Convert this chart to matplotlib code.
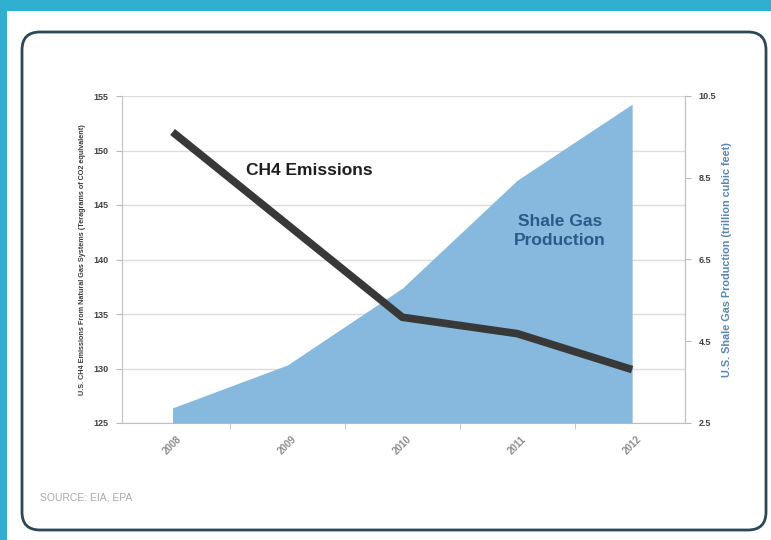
import numpy as np
import matplotlib.pyplot as plt
from matplotlib.patches import FancyBboxPatch, Rectangle

years = ["2008", "2009", "2010", "2011", "2012"]
ch4_emissions = [151.7, 143.2, 134.7, 133.2, 129.9]
shale_gas = [2.87, 3.92, 5.8, 8.44, 10.3]
left_ticks = [125, 130, 135, 140, 145, 150, 155]
right_ticks = [2.5, 4.5, 6.5, 8.5, 10.5]

plt.rcParams['font.family'] = ['Liberation Sans', 'DejaVu Sans']

fig = plt.figure(figsize=(7.71, 5.4), dpi=100)

# background frame in pixel coordinates
bg = fig.add_axes([0, 0, 1, 1])
bg.set_xlim(0, 771)
bg.set_ylim(540, 0)
bg.axis("off")
bg.add_patch(Rectangle((0, 0), 771, 11, color="#2fb0d0", lw=0))
bg.add_patch(Rectangle((0, 0), 7, 540, color="#2fb0d0", lw=0))
bg.add_patch(FancyBboxPatch((40, 50), 708, 462, boxstyle="round,pad=18",
                            fc="white", ec="#2c4756", lw=2))
bg.text(40, 497, "SOURCE: EIA, EPA", fontsize=7.5, color="#a8a8a8", va="center")

x = np.arange(len(years))

ax = fig.add_axes([122 / 771, 117 / 540, 563 / 771, 327 / 540])
ax.set_xlim(-0.44, 4.46)
ax.set_ylim(125, 155)
ax.set_yticks(left_ticks)
ax.set_yticklabels([str(t) for t in left_ticks], fontsize=6.5, fontweight="bold", color="#404040")
ax.grid(axis="y", color="#dcdcdc", lw=1)
ax.set_axisbelow(True)
ax.set_xticks(x)
ax.set_xticklabels(years, rotation=45, fontsize=7, fontweight="bold", color="#8c8c8c")
ax.set_xticks(x[:-1] + 0.5, minor=True)
ax.tick_params(axis="x", which="major", length=0, pad=8)
ax.tick_params(axis="x", which="minor", length=4, color="#bbbbbb")
ax.tick_params(axis="y", length=4, color="#bbbbbb", pad=6)
ax.spines["top"].set_visible(False)
for s in ["left", "bottom", "right"]:
    ax.spines[s].set_color("#c0c0c0")
ax.set_ylabel("U.S. CH4 Emissions From Natural Gas Systems (Teragrams of CO2 equivalent)",
              fontsize=5.2, fontweight="bold", color="#3a3a3a", labelpad=5)

ax2 = ax.twinx()
ax2.set_ylim(2.5, 10.5)
ax2.fill_between(x, shale_gas, 2.5, color="#86b9dd", lw=0)
ax2.set_yticks(right_ticks)
ax2.set_yticklabels([str(t) for t in right_ticks], fontsize=6.5, fontweight="bold", color="#404040")
ax2.tick_params(axis="y", length=4, color="#bbbbbb", pad=6)
for s in ["top", "left", "bottom"]:
    ax2.spines[s].set_visible(False)
ax2.spines["right"].set_color("#c0c0c0")
ax2.set_ylabel("U.S. Shale Gas Production (trillion cubic feet)",
               fontsize=7.8, fontweight="bold", color="#5a86b4", labelpad=4)

ax3 = ax.twinx()
ax3.set_ylim(125, 155)
ax3.axis("off")
ax3.plot(x, ch4_emissions, color="#383838", lw=5.5, solid_capstyle="butt")

ax3.text(0.64, 148.2, "CH4 Emissions", fontsize=12.5, fontweight="bold",
         color="#1e1e1e", va="center")
ax3.text(3.37, 142.6, "Shale Gas\nProduction", fontsize=12.5, fontweight="bold",
         color="#2a5a88", ha="center", va="center", linespacing=1.3)

fig.savefig("out.png", dpi=100)
